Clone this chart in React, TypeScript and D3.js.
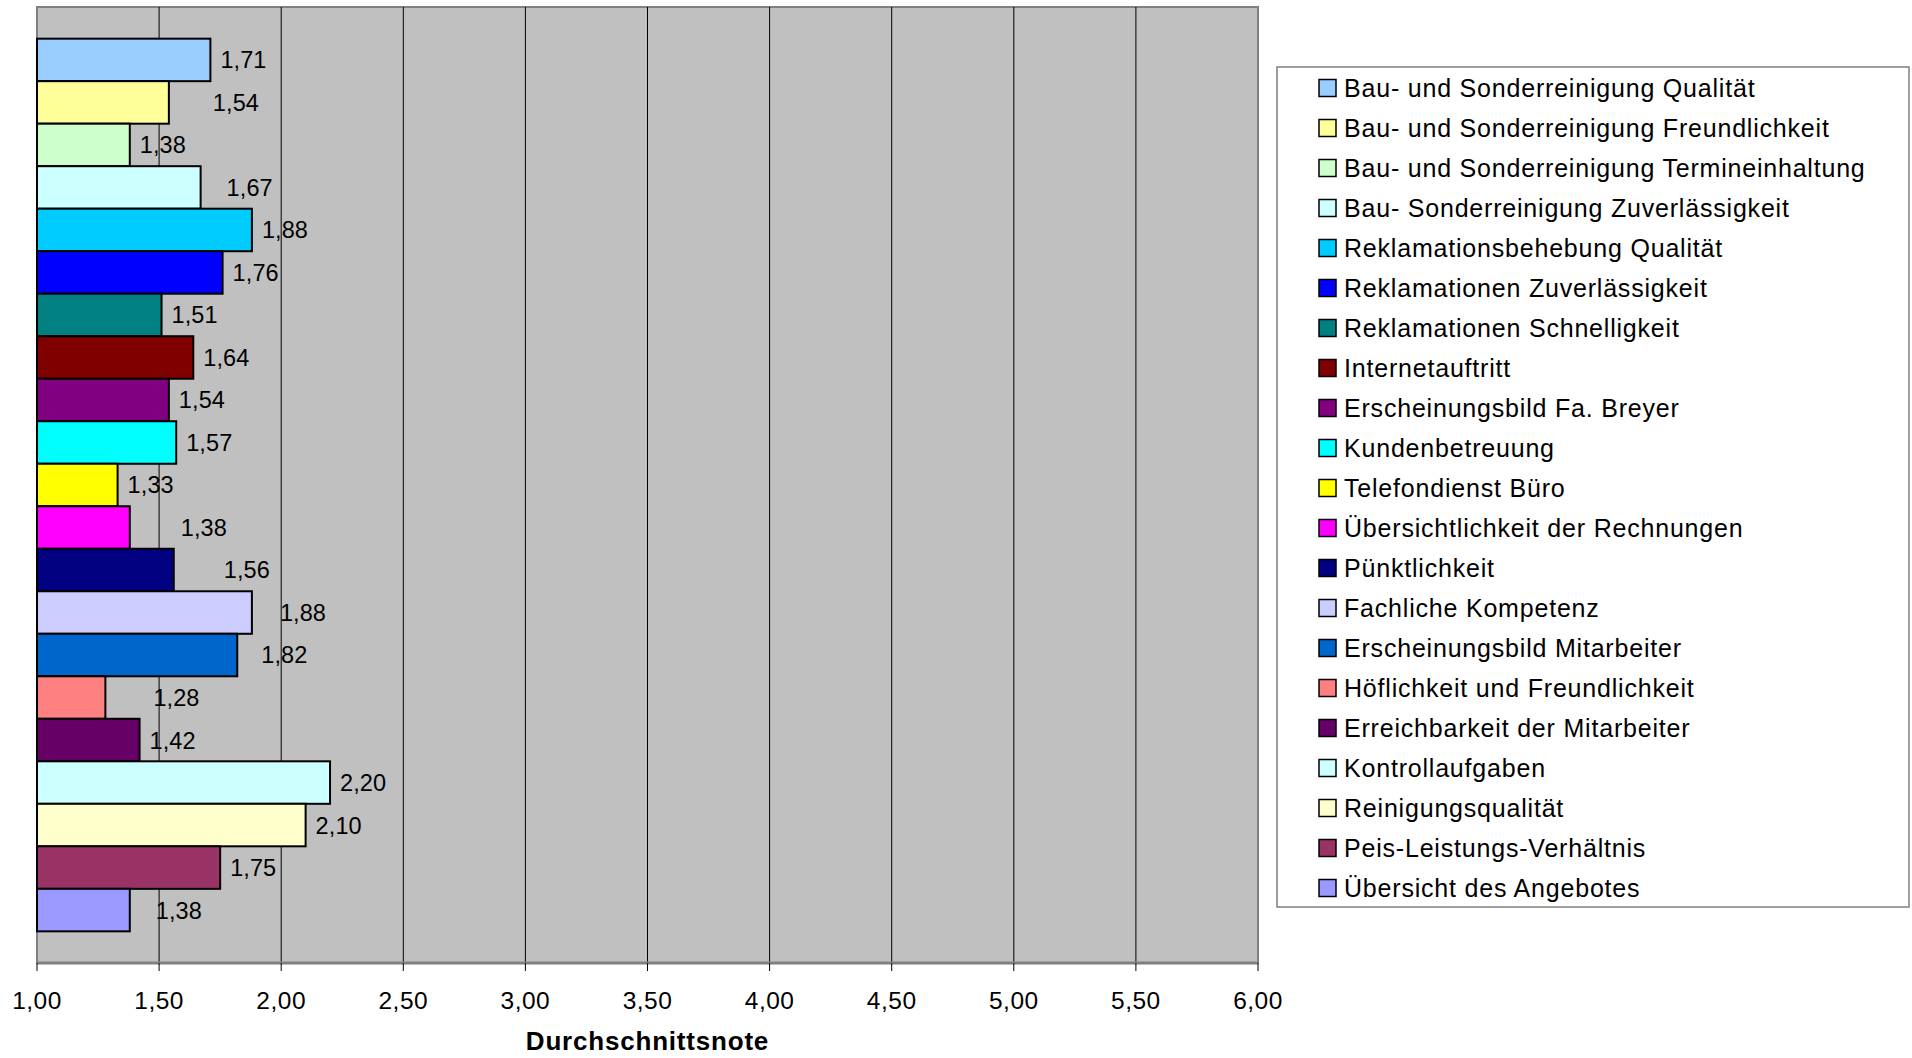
import React, { useEffect, useRef } from 'react';
import * as d3 from 'd3';

// Kategorien (Reihenfolge wie in der Legende, oben nach unten)
const categories = [
  'Bau- und Sonderreinigung Qualität',
  'Bau- und Sonderreinigung Freundlichkeit',
  'Bau- und Sonderreinigung Termineinhaltung',
  'Bau- Sonderreinigung Zuverlässigkeit',
  'Reklamationsbehebung Qualität',
  'Reklamationen Zuverlässigkeit',
  'Reklamationen Schnelligkeit',
  'Internetauftritt',
  'Erscheinungsbild Fa. Breyer',
  'Kundenbetreuung',
  'Telefondienst Büro',
  'Übersichtlichkeit der Rechnungen',
  'Pünktlichkeit',
  'Fachliche Kompetenz',
  'Erscheinungsbild Mitarbeiter',
  'Höflichkeit und Freundlichkeit',
  'Erreichbarkeit der Mitarbeiter',
  'Kontrollaufgaben',
  'Reinigungsqualität',
  'Peis-Leistungs-Verhältnis',
  'Übersicht des Angebotes',
];

const values = [
  1.71, 1.54, 1.38, 1.67, 1.88, 1.76, 1.51, 1.64, 1.54, 1.57, 1.33,
  1.38, 1.56, 1.88, 1.82, 1.28, 1.42, 2.2, 2.1, 1.75, 1.38,
];

const colors = [
  '#99CCFF', '#FFFF99', '#CCFFCC', '#CCFFFF', '#00CCFF', '#0000FF', '#008080',
  '#800000', '#800080', '#00FFFF', '#FFFF00', '#FF00FF', '#000080', '#CCCCFF',
  '#0066CC', '#FF8080', '#660066', '#CCFFFF', '#FFFFCC', '#993366', '#9999FF',
];

// manuell verschobene Datenbeschriftungen (zusätzlicher Abstand in px)
const labelShift = [0, 34, 0, 16, 0, 0, 0, 0, 0, 0, 0, 41, 40, 18, 14, 38, 0, 0, 0, 0, 16];

const xTicks = [1, 1.5, 2, 2.5, 3, 3.5, 4, 4.5, 5, 5.5, 6];

const fmt = (v: number) => d3.format('.2f')(v).replace('.', ',');

export default function App() {
  const ref = useRef<SVGSVGElement>(null);

  useEffect(() => {
    if (!ref.current) return;
    const svg = d3.select(ref.current);
    svg.selectAll('*').remove();

    const font = '"Liberation Sans", Arial, sans-serif';
    const plot = { left: 37, right: 1258, top: 7, bottom: 963 };

    const x = d3.scaleLinear().domain([1, 6]).range([plot.left, plot.right]);
    const y = d3.scaleBand<string>()
      .domain(categories)
      .range([plot.top, plot.bottom])
      .paddingInner(0)
      .paddingOuter(0.745);

    // Plotfläche
    svg.append('rect')
      .attr('x', plot.left)
      .attr('y', plot.top)
      .attr('width', plot.right - plot.left)
      .attr('height', plot.bottom - plot.top)
      .attr('fill', '#C0C0C0')
      .attr('stroke', '#808080')
      .attr('stroke-width', 2);

    // Gitternetzlinien
    svg.append('g')
      .selectAll('line')
      .data(xTicks.filter(t => t > 1 && t < 6))
      .join('line')
      .attr('x1', d => x(d))
      .attr('x2', d => x(d))
      .attr('y1', plot.top)
      .attr('y2', plot.bottom)
      .attr('stroke', '#000')
      .attr('stroke-width', 1);

    // Balken
    svg.append('g')
      .selectAll('rect')
      .data(values)
      .join('rect')
      .attr('x', x(1))
      .attr('y', (_, i) => y(categories[i]) || 0)
      .attr('width', d => x(d) - x(1))
      .attr('height', y.bandwidth())
      .attr('fill', (_, i) => colors[i])
      .attr('stroke', '#000')
      .attr('stroke-width', 2);

    // Datenbeschriftungen
    svg.append('g')
      .selectAll('text')
      .data(values)
      .join('text')
      .attr('x', (d, i) => x(d) + 10 + labelShift[i])
      .attr('y', (_, i) => (y(categories[i]) || 0) + y.bandwidth() / 2)
      .attr('dy', '0.36em')
      .attr('font-family', font)
      .attr('font-size', 23.5)
      .attr('letter-spacing', 0.1)
      .attr('fill', '#000')
      .text(d => fmt(d));

    // X-Achse
    const axis = svg.append('g');
    axis.append('line')
      .attr('x1', plot.left)
      .attr('x2', plot.right)
      .attr('y1', plot.bottom)
      .attr('y2', plot.bottom)
      .attr('stroke', '#808080')
      .attr('stroke-width', 3);
    axis.selectAll('line.tick')
      .data(xTicks)
      .join('line')
      .attr('class', 'tick')
      .attr('x1', d => x(d))
      .attr('x2', d => x(d))
      .attr('y1', plot.bottom)
      .attr('y2', plot.bottom + 8)
      .attr('stroke', '#000')
      .attr('stroke-width', 1);
    axis.selectAll('text')
      .data(xTicks)
      .join('text')
      .attr('x', d => x(d))
      .attr('y', 1009)
      .attr('text-anchor', 'middle')
      .attr('font-family', font)
      .attr('font-size', 24.5)
      .attr('letter-spacing', 0.5)
      .text(d => fmt(d));

    svg.append('text')
      .attr('x', (plot.left + plot.right) / 2)
      .attr('y', 1050)
      .attr('text-anchor', 'middle')
      .attr('font-family', font)
      .attr('font-size', 26)
      .attr('font-weight', 'bold')
      .attr('letter-spacing', 0.8)
      .text('Durchschnittsnote');

    // Legende
    const legend = { left: 1277, top: 67, width: 632, row: 40 };
    svg.append('rect')
      .attr('x', legend.left)
      .attr('y', legend.top)
      .attr('width', legend.width)
      .attr('height', legend.row * categories.length)
      .attr('fill', '#fff')
      .attr('stroke', '#808080')
      .attr('stroke-width', 1.5);

    const items = svg.append('g')
      .selectAll('g')
      .data(categories)
      .join('g')
      .attr('transform', (_, i) => `translate(${legend.left}, ${legend.top + 21 + i * legend.row})`);

    items.append('rect')
      .attr('x', 42)
      .attr('y', -8.5)
      .attr('width', 17)
      .attr('height', 17)
      .attr('fill', (_, i) => colors[i])
      .attr('stroke', '#000')
      .attr('stroke-width', 1.5);

    items.append('text')
      .attr('x', 67)
      .attr('y', 0)
      .attr('dy', '0.36em')
      .attr('font-family', font)
      .attr('font-size', 25)
      .attr('letter-spacing', 0.8)
      .text(d => d);
  }, []);

  return (
    <svg
      ref={ref}
      width={1912}
      height={1058}
      style={{ position: 'absolute', left: 0, top: 0, background: '#fff' }}
    />
  );
}
